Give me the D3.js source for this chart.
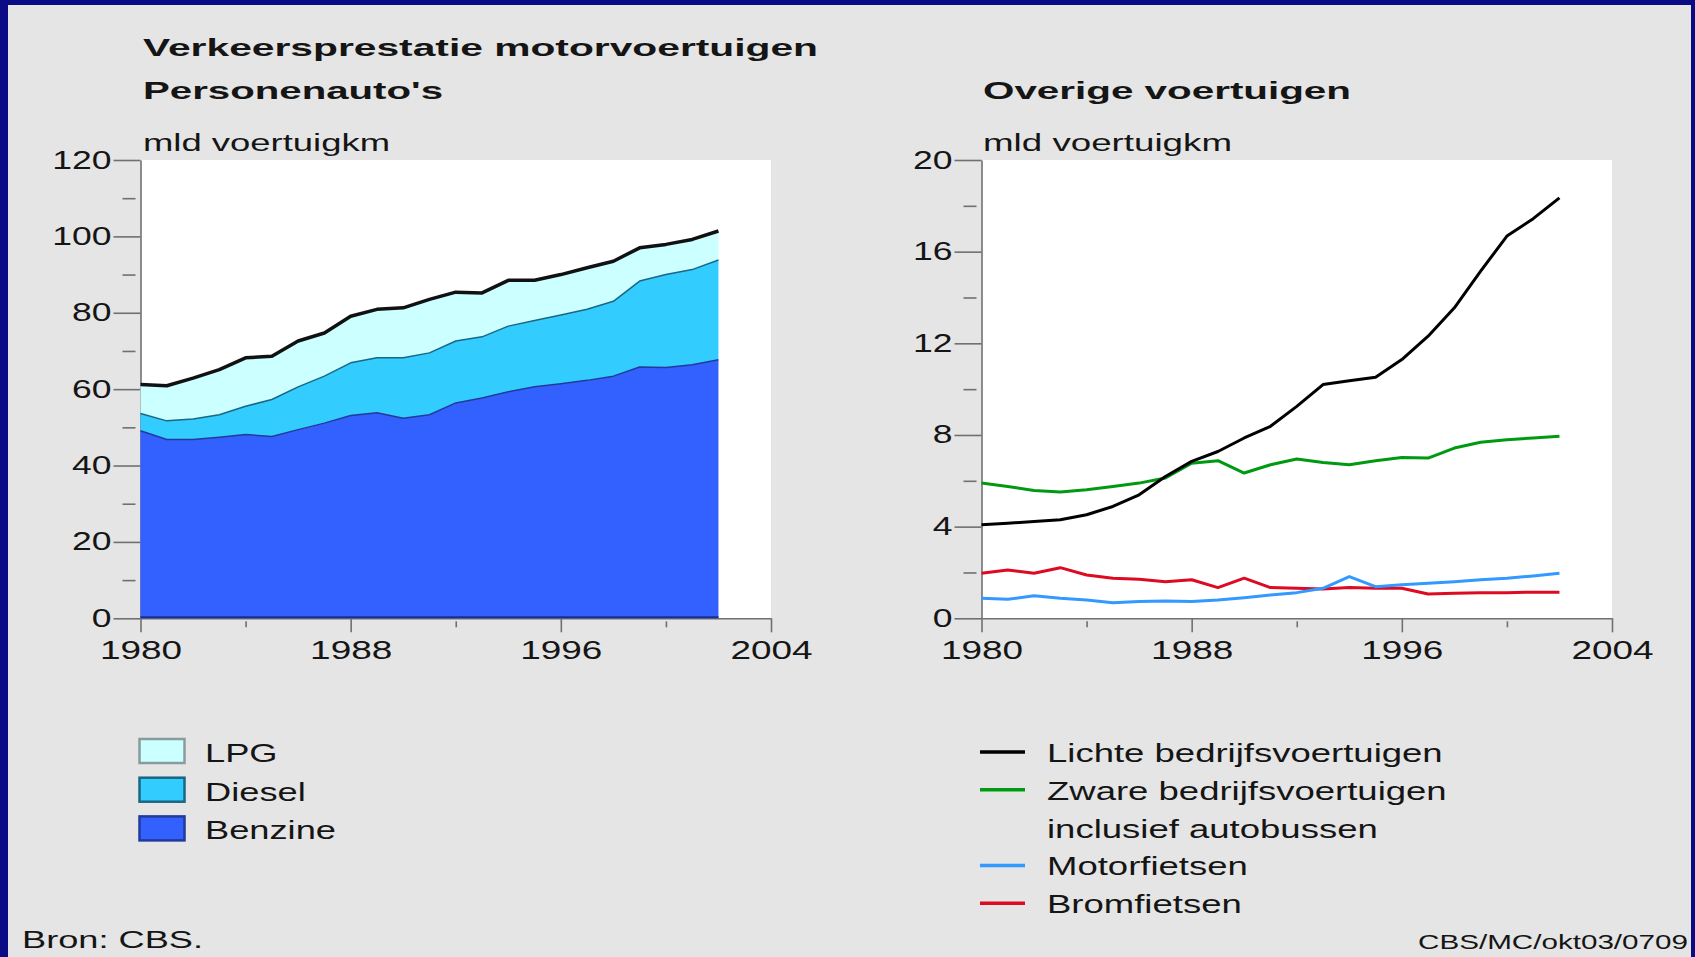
<!DOCTYPE html>
<html>
<head>
<meta charset="utf-8">
<script src="https://cdn.jsdelivr.net/npm/d3@7"></script>
<style>
  body { margin: 0; background: #0b0b86; }
  svg { display: block; }
  text { font-family: "Liberation Sans", Arial, sans-serif; fill: #151515; }
</style>
</head>
<body>
<svg width="1695" height="957"></svg>
<script>
// ---- data ----
var years = [1980, 1981, 1982, 1983, 1984, 1985, 1986, 1987, 1988, 1989, 1990, 1991,
             1992, 1993, 1994, 1995, 1996, 1997, 1998, 1999, 2000, 2001, 2002];

// personenauto's, mld voertuigkm per brandstof
var benzine = [49.1, 46.8, 46.8, 47.4, 48.1, 47.6, 49.4, 51.1, 53.1, 53.8, 52.4, 53.3,
               56.4, 57.7, 59.3, 60.6, 61.4, 62.3, 63.4, 65.8, 65.7, 66.4, 67.7];
var diesel  = [4.5, 4.9, 5.4, 5.9, 7.4, 9.7, 11.2, 12.3, 13.8, 14.4, 15.8, 16.2,
               16.2, 16.0, 17.2, 17.4, 18.0, 18.6, 19.6, 22.5, 24.3, 24.9, 26.1];
var lpg     = [7.6, 9.2, 10.7, 11.8, 12.7, 11.3, 12.0, 11.3, 12.2, 12.7, 13.1, 14.0,
               12.8, 11.5, 12.0, 10.5, 10.6, 10.9, 10.5, 8.7, 7.9, 7.9, 7.6];

// overige voertuigen
var lichte = [4.08, 4.15, 4.22, 4.30, 4.52, 4.88, 5.39, 6.19, 6.85, 7.28, 7.87, 8.38,
              9.25, 10.20, 10.37, 10.52, 11.29, 12.31, 13.55, 15.15, 16.68, 17.44, 18.35];
var zware  = [5.90, 5.75, 5.58, 5.51, 5.61, 5.75, 5.90, 6.12, 6.77, 6.88, 6.34, 6.70,
              6.95, 6.80, 6.70, 6.88, 7.02, 6.99, 7.43, 7.68, 7.79, 7.87, 7.94];
var motor  = [0.87, 0.83, 0.98, 0.87, 0.80, 0.68, 0.73, 0.76, 0.73, 0.80, 0.90, 1.02,
              1.12, 1.31, 1.82, 1.38, 1.46, 1.53, 1.60, 1.68, 1.75, 1.85, 1.97];
var brom   = [1.97, 2.11, 1.97, 2.21, 1.89, 1.75, 1.70, 1.60, 1.68, 1.34, 1.75, 1.34,
              1.31, 1.28, 1.34, 1.31, 1.31, 1.06, 1.09, 1.12, 1.12, 1.14, 1.14];

var yearTicks = [1980, 1988, 1996, 2004];
var yearMinor = [1984, 1992, 2000];
var leftTicks = [0, 20, 40, 60, 80, 100, 120];
var leftMinor = [10, 30, 50, 70, 90, 110];
var rightTicks = [0, 4, 8, 12, 16, 20];
var rightMinor = [2, 6, 10, 14, 18];

var fuelKeys = ['benzine', 'diesel', 'lpg'];
var fuelColors = {benzine: '#3361ff', diesel: '#33ccff', lpg: '#ccffff'};
var fuelEdges = {benzine: '#223a99', diesel: '#1a6685', lpg: '#889c9c'};
var fuelNames = {benzine: 'Benzine', diesel: 'Diesel', lpg: 'LPG'};

var otherSeries = [
  {name: 'Lichte bedrijfsvoertuigen', values: lichte, color: '#000000'},
  {name: 'Zware bedrijfsvoertuigen', values: zware, color: '#009a10'},
  {name: 'Motorfietsen', values: motor, color: '#3399ff'},
  {name: 'Bromfietsen', values: brom, color: '#dd0a22'}
];

// ---- setup ----
var svg = d3.select('svg');
var W = +svg.attr('width'), H = +svg.attr('height');

// text in the original is drawn wide: stretch glyphs horizontally
var stretch = function(sel, k) {
  sel.each(function() {
    var w = this.getComputedTextLength();
    d3.select(this).attr('textLength', w * k).attr('lengthAdjust', 'spacingAndGlyphs');
  });
};
var addText = function(str, x, y, size, weight, width, anchor) {
  var t = svg.append('text')
    .attr('x', x).attr('y', y)
    .attr('font-size', size)
    .attr('font-weight', weight || 'normal')
    .attr('text-anchor', anchor || 'start')
    .text(str);
  if (width) t.attr('textLength', width).attr('lengthAdjust', 'spacingAndGlyphs');
  return t;
};

svg.append('rect').attr('width', W).attr('height', H).attr('fill', '#0b0b86');
svg.append('rect').attr('x', 8).attr('y', 5).attr('width', W - 12).attr('height', H - 5)
  .attr('fill', '#e5e5e5');

// ---- titles ----
addText('Verkeersprestatie motorvoertuigen', 143, 56, 24, 'bold', 675);
addText("Personenauto's", 143, 99, 24, 'bold', 300);
addText('Overige voertuigen', 983, 99, 24, 'bold', 368);
addText('mld voertuigkm', 143, 151, 23, 'normal', 247);
addText('mld voertuigkm', 983, 151, 23, 'normal', 249);

var plotTop = 160, plotBottom = 618.3;

// draws the axes of one panel
var drawAxes = function(x, y, major, minor) {
  var x0 = x.range()[0], x1 = x.range()[1];
  svg.append('rect')
    .attr('x', x0).attr('y', plotTop)
    .attr('width', x1 - x0).attr('height', plotBottom - plotTop)
    .attr('fill', '#ffffff');

  var ya = svg.append('g')
    .attr('class', 'y axis')
    .attr('transform', 'translate(' + x0 + ',0)')
    .call(d3.axisLeft(y).tickValues(major).tickSize(27).tickSizeOuter(0).tickPadding(2));
  svg.append('g')
    .attr('transform', 'translate(' + (x0 - 5) + ',0)')
    .call(d3.axisLeft(y).tickValues(minor).tickSize(13).tickSizeOuter(0).tickFormat(''))
    .call(function(g) { g.select('.domain').remove(); });

  var xa = svg.append('g')
    .attr('class', 'x axis')
    .attr('transform', 'translate(0,' + plotBottom + ')')
    .call(d3.axisBottom(x).tickValues(yearTicks).tickFormat(d3.format('d'))
      .tickSize(14).tickSizeOuter(0).tickPadding(8));
  svg.append('g')
    .attr('transform', 'translate(0,' + (plotBottom + 3) + ')')
    .call(d3.axisBottom(x).tickValues(yearMinor).tickSize(6).tickSizeOuter(0).tickFormat(''))
    .call(function(g) { g.select('.domain').remove(); });

  svg.selectAll('.axis .domain, .tick line').attr('stroke', '#707070').attr('stroke-width', 1.6);
  ya.selectAll('text').attr('font-size', 25).attr('fill', '#151515').attr('font-family', null);
  xa.selectAll('text').attr('font-size', 26).attr('fill', '#151515').attr('font-family', null);
  stretch(ya.selectAll('text'), 1.42);
  stretch(xa.selectAll('text'), 1.42);
};

// ---- left panel: stacked areas ----
var xL = d3.scaleLinear().domain([1980, 2004]).range([140.5, 771]);
var yL = d3.scaleLinear().domain([0, 120]).range([plotBottom, plotTop]);

var fuelRows = years.map(function(yr, i) {
  return {year: yr, benzine: benzine[i], diesel: diesel[i], lpg: lpg[i]};
});
var stacked = d3.stack().keys(fuelKeys)(fuelRows);

drawAxes(xL, yL, leftTicks, leftMinor);

var area = d3.area()
  .x(function(d) { return xL(d.data.year); })
  .y0(function(d) { return yL(d[0]); })
  .y1(function(d) { return yL(d[1]); });
var topLine = d3.line()
  .x(function(d) { return xL(d.data.year); })
  .y(function(d) { return yL(d[1]); });

svg.append('g').selectAll('path')
  .data(stacked)
  .enter().append('path')
    .attr('d', area)
    .attr('fill', function(d) { return fuelColors[d.key]; });

svg.append('line')
  .attr('x1', xL(years[0])).attr('x2', xL(years[years.length - 1]))
  .attr('y1', plotBottom - 1).attr('y2', plotBottom - 1)
  .attr('stroke', '#1a2f8a').attr('stroke-width', 2);

svg.append('g').selectAll('path')
  .data(stacked)
  .enter().append('path')
    .attr('d', topLine)
    .attr('fill', 'none')
    .attr('stroke', function(d) { return d.key === 'lpg' ? '#111111' : fuelEdges[d.key]; })
    .attr('stroke-width', function(d) { return d.key === 'lpg' ? 3.5 : 1.5; })
    .attr('stroke-linejoin', 'round');

// left legend
var legL = svg.append('g');
fuelKeys.slice().reverse().forEach(function(k, i) {
  var yy = 739 + i * 38.7;
  legL.append('rect')
    .attr('x', 139.5).attr('y', yy)
    .attr('width', 45).attr('height', 24)
    .attr('fill', fuelColors[k])
    .attr('stroke', fuelEdges[k]).attr('stroke-width', 2.5);
  var t = legL.append('text')
    .attr('x', 205).attr('y', yy + 23)
    .attr('font-size', 25)
    .text(fuelNames[k]);
  stretch(t, 1.45);
});

// ---- right panel: lines ----
var xR = d3.scaleLinear().domain([1980, 2004]).range([981.5, 1612]);
var yR = d3.scaleLinear().domain([0, 20]).range([plotBottom, plotTop]);

drawAxes(xR, yR, rightTicks, rightMinor);

var line = d3.line()
  .x(function(d, i) { return xR(years[i]); })
  .y(function(d) { return yR(d); });

// draw bottom series first so the black line stays on top
svg.append('g').selectAll('path')
  .data(otherSeries.slice().reverse())
  .enter().append('path')
    .attr('d', function(d) { return line(d.values); })
    .attr('fill', 'none')
    .attr('stroke', function(d) { return d.color; })
    .attr('stroke-width', 3)
    .attr('stroke-linejoin', 'round');

// right legend
var legRows = [
  {text: 'Lichte bedrijfsvoertuigen', color: otherSeries[0].color},
  {text: 'Zware bedrijfsvoertuigen', color: otherSeries[1].color},
  {text: 'inclusief autobussen', color: null},
  {text: 'Motorfietsen', color: otherSeries[2].color},
  {text: 'Bromfietsen', color: otherSeries[3].color}
];
var legR = svg.append('g');
legRows.forEach(function(r, i) {
  var base = 762 + i * 37.8;
  if (r.color) {
    legR.append('line')
      .attr('x1', 980).attr('x2', 1025)
      .attr('y1', base - 10).attr('y2', base - 10)
      .attr('stroke', r.color).attr('stroke-width', 3.5);
  }
  var t = legR.append('text')
    .attr('x', 1047).attr('y', base)
    .attr('font-size', 25)
    .text(r.text);
  stretch(t, 1.46);
});

// ---- footer ----
addText('Bron: CBS.', 22, 948, 23, 'normal', 181);
addText('CBS/MC/okt03/0709', 1688, 949, 21, 'normal', 270, 'end');
</script>
</body>
</html>
